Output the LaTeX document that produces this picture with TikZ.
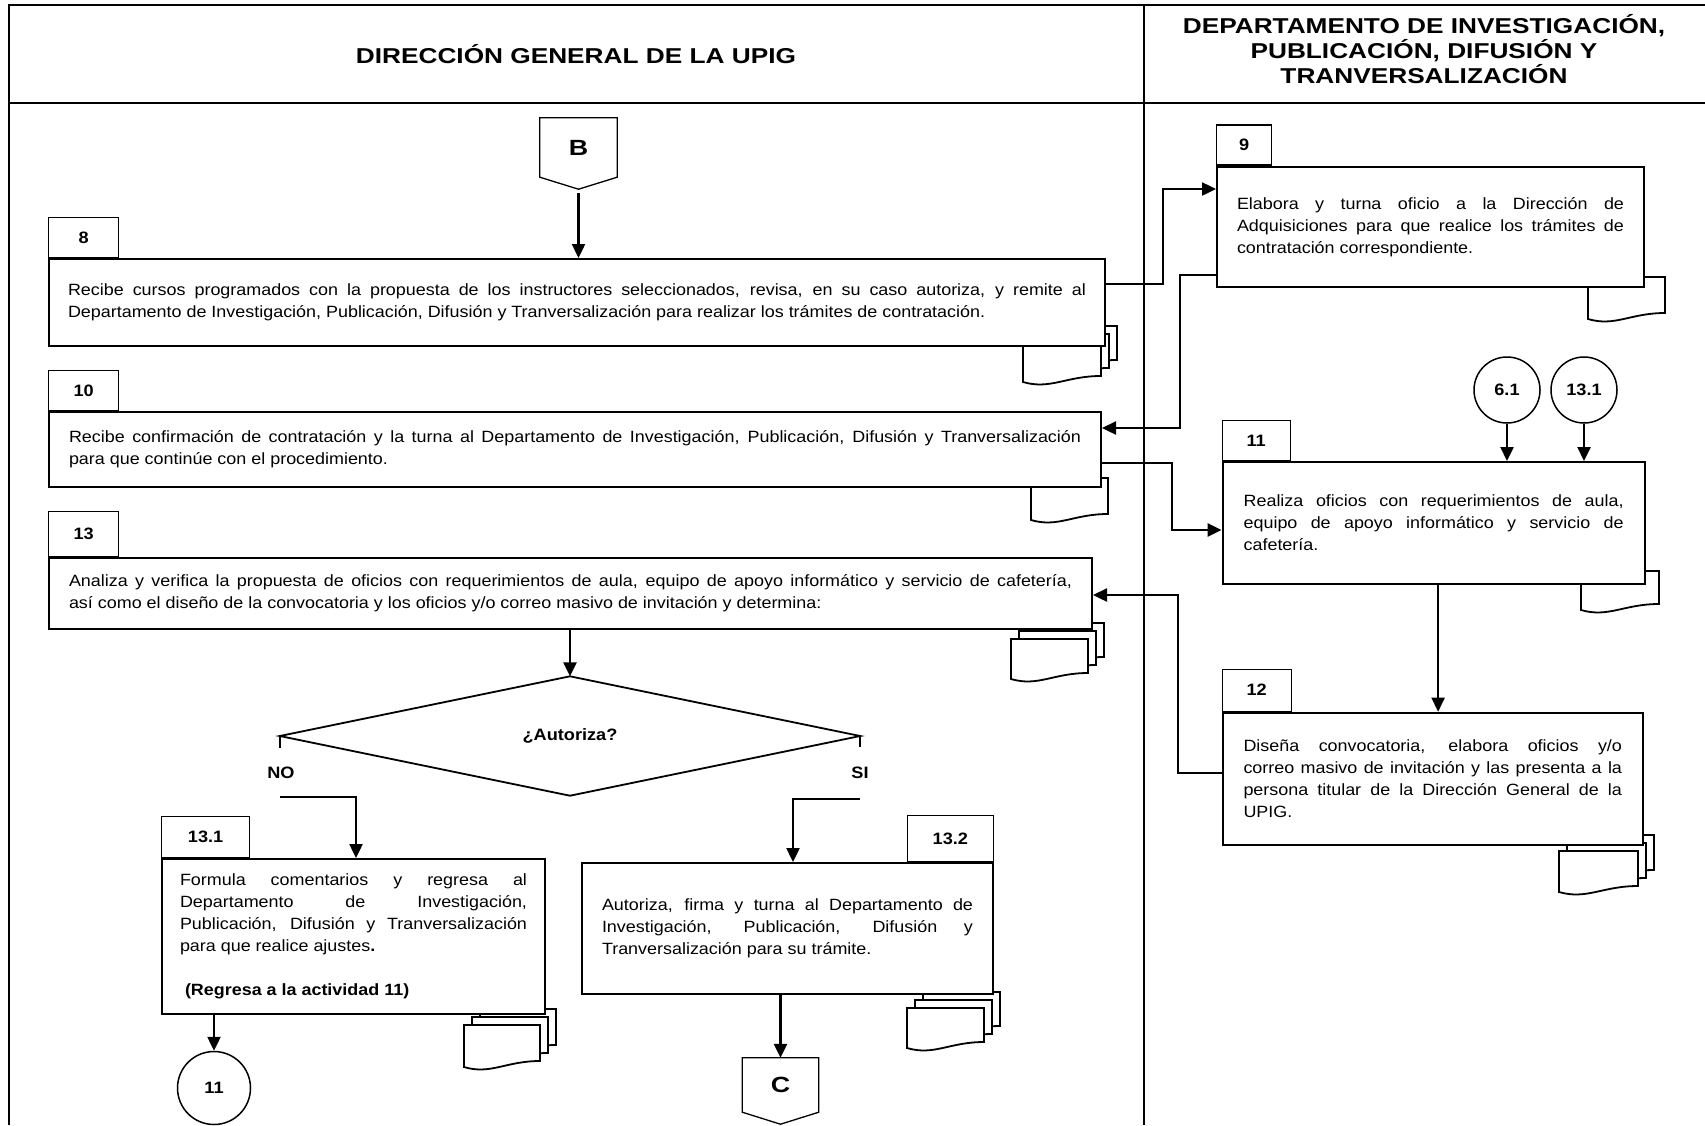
\documentclass[tikz,border=0pt]{standalone}
\usepackage{fontspec}
\setmainfont{Liberation Sans}
\newfontfamily\bodyfam[FakeStretch=1.1]{Liberation Sans}
\newfontfamily\headfam[FakeStretch=1.22]{Liberation Sans}
\usetikzlibrary{arrows.meta,calc}

\newcommand{\bodytext}{\bodyfam\fontsize{16.3}{22}\selectfont}
\newcommand{\labeltext}{\bodyfam\bfseries\fontsize{16.5}{20}\selectfont}
\newcommand{\headtext}{\headfam\bfseries\fontsize{21.5}{25}\selectfont}
\newcommand{\pagetext}{\headfam\bfseries\fontsize{22}{24}\selectfont}
% interword glue of the font itself (stretchable)
\newcommand{\fontspaces}{\spaceskip=0pt\relax\xspaceskip=0pt\relax}
% one justified line of a text block
\newcommand{\jline}[1]{{\fontspaces\makebox[\hsize][s]{#1}}\\}
% a document sheet: top-left x, top-left y, width, height (wavy bottom edge)
\newcommand{\docsheet}[4]{%
  \draw[docsh] (#1,#2) -- ++(#3,0) -- ++(0,#4-6)
    .. controls +(-0.45*#3,0) and +(0.35*#3,8) .. (#1,#2+#4) -- cycle;}
% three stacked sheets, the front one given
\newcommand{\docstack}[4]{%
  \docsheet{#1+16}{#2-16}{#3}{#4}%
  \docsheet{#1+8}{#2-8}{#3}{#4}%
  \docsheet{#1}{#2}{#3}{#4}}

\tikzset{
  frame/.style={line width=2.5pt},
  box/.style={draw, line width=2pt, fill=white, anchor=north west,
              inner ysep=0pt, align=left, font=\bodytext},
  tab/.style={draw, line width=1.2pt, anchor=south west, inner sep=0pt,
              font=\labeltext},
  circ/.style={draw, circle, line width=1.5pt, inner sep=0pt, fill=white,
               font=\labeltext},
  arr/.style={line width=2.4pt, -{Triangle[length=14pt,width=13pt]}},
  conn/.style={line width=2.4pt},
  thinline/.style={line width=1.3pt},
  docsh/.style={line width=1.8pt, fill=white},
  lbl/.style={font=\labeltext, inner sep=0pt}
}

\begin{document}
\begin{tikzpicture}[x=1pt, y=-1pt, line join=miter]
\fill[white] (0,0) rectangle (1705,1125);
\useasboundingbox (0,0) rectangle (1705,1125);

% ---- lanes and headers
\draw[frame] (9,5) -- (1705,5);
\draw[frame] (9,103) -- (1705,103);
\draw[frame] (9,4) -- (9,1125);
\draw[frame] (1144,4) -- (1144,1125);
\node[font=\headtext] (hL) at (576,54) {DIRECCIÓN GENERAL DE LA UPIG};
\node[font=\headtext, align=center] (hR) at (1424,49.5)
  {DEPARTAMENTO DE INVESTIGACIÓN,\\PUBLICACIÓN, DIFUSIÓN Y\\TRANVERSALIZACIÓN};

% ---- document sheets (behind the boxes)
\docstack{1023}{342}{78}{40}
\docsheet{1588}{277}{77}{42}
\docsheet{1031}{478}{77}{42}
\docsheet{1581}{571}{78}{39}
\docstack{1559}{851}{79}{41}
\docstack{1011}{639}{77}{40}
\docstack{464}{1025}{76}{42}
\docstack{907}{1008}{77}{40}

% ---- activity boxes
\node[box, minimum width=1056pt, minimum height=87pt, inner xsep=19pt, text width=1018pt] (b8) at (48,258)
  {\fontspaces\jline{Recibe cursos programados con la propuesta de los instructores seleccionados, revisa, en su caso autoriza, y remite al}
   \mbox{Departamento de Investigación, Publicación, Difusión y Tranversalización para realizar los trámites de contratación.}};
\node[box, minimum width=427pt, minimum height=120.5pt, inner xsep=20pt, text width=387pt] (b9) at (1216,165.5)
  {\fontspaces\jline{Elabora y turna oficio a la Dirección de}\jline{Adquisiciones para que realice los trámites de}contratación correspondiente.};
\node[box, minimum width=1052pt, minimum height=75pt, inner xsep=20pt, text width=1012pt] (b10) at (48,411)
  {\fontspaces\jline{Recibe confirmación de contratación y la turna al Departamento de Investigación, Publicación, Difusión y Tranversalización}
   \mbox{para que continúe con el procedimiento.}};
\node[box, minimum width=422pt, minimum height=122pt, inner xsep=21pt, text width=380pt] (b11) at (1221.6,461)
  {\fontspaces\jline{Realiza oficios con requerimientos de aula,}\jline{equipo de apoyo informático y servicio de}cafetería.};
\node[box, minimum width=420.5pt, minimum height=132.3pt, inner xsep=21pt, text width=378.5pt] (b12) at (1221.5,711.7)
  {\fontspaces\jline{Diseña convocatoria, elabora oficios y/o}\jline{correo masivo de invitación y las presenta a la}\jline{persona titular de la Dirección General de la}UPIG.};
\node[box, minimum width=1043pt, minimum height=71pt, inner xsep=20pt, text width=1003pt] (b13) at (48,557)
  {\fontspaces\jline{Analiza y verifica la propuesta de oficios con requerimientos de aula, equipo de apoyo informático y servicio de cafetería,}
   \mbox{así como el diseño de la convocatoria y los oficios y/o correo masivo de invitación y determina:}};
\node[box, minimum width=383pt, minimum height=155pt, inner xsep=18pt, text width=347pt] (b131) at (161,858)
  {\fontspaces\jline{Formula comentarios y regresa al}\jline{Departamento de Investigación,}\jline{Publicación, Difusión y Tranversalización}para que realice ajustes\textbf{.}\\
   \mbox{}\\ \hspace*{5pt}\textbf{(Regresa a la actividad 11)}};
\node[box, minimum width=411pt, minimum height=131pt, inner xsep=20pt, text width=371pt] (b132) at (581,862)
  {\fontspaces\jline{Autoriza, firma y turna al Departamento de}\jline{Investigación, Publicación, Difusión y}Tranversalización para su trámite.};

% ---- number tabs
\node[tab, minimum width=70pt, minimum height=40pt] (t8) at (b8.north west) {8};
\node[tab, minimum width=55pt, minimum height=40pt] (t9) at (b9.north west) {9};
\node[tab, minimum width=70pt, minimum height=40pt] (t10) at (b10.north west) {10};
\node[tab, minimum width=68pt, minimum height=40pt] (t11) at (b11.north west) {11};
\node[tab, minimum width=69pt, minimum height=42pt] (t12) at (b12.north west) {12};
\node[tab, minimum width=70pt, minimum height=45pt] (t13) at (b13.north west) {13};
\node[tab, minimum width=88pt, minimum height=41pt] (t131) at (b131.north west) {13.1};
\node[tab, anchor=south east, minimum width=86pt, minimum height=46pt] (t132) at (b132.north east) {13.2};

% ---- connectors on page
\node[circ, minimum size=66pt] (c61) at (1507,390) {6.1};
\node[circ, minimum size=66pt] (c131) at (1584,390) {13.1};
\node[circ, minimum size=73pt] (c11) at (214,1088) {11};

% ---- off-page connectors
\node[minimum width=77pt, minimum height=59pt, inner sep=0pt, font=\pagetext] (B) at (578.5,147.5) {B};
\coordinate (Btip) at ($(B.south)+(0,12)$);
\draw[thinline] (B.north west) -- (B.north east) -- (B.south east) -- (Btip) -- (B.south west) -- cycle;
\node[minimum width=76pt, minimum height=54pt, inner sep=0pt, font=\pagetext] (C) at (780.5,1085) {C};
\coordinate (Ctip) at ($(C.south)+(0,12)$);
\draw[thinline] (C.north west) -- (C.north east) -- (C.south east) -- (Ctip) -- (C.south west) -- cycle;

% ---- decision
\node[minimum width=580pt, minimum height=119pt, inner sep=0pt, font=\labeltext] (dec) at (570,736) {¿Autoriza?};
\draw[line width=1.8pt] (dec.north) -- (dec.east) -- (dec.south) -- (dec.west) -- cycle;
\node[lbl] (no) at (281,773) {NO};
\node[lbl] (si) at (860,773) {SI};

% ---- flow
\draw[arr] ($(Btip)+(0,4)$) -- (Btip |- b8.north);
\coordinate (j89) at (1163,189);
\draw[arr] (b8.east |- 0,284) -| (j89) -- (b9.west |- j89);
\coordinate (j910) at (1180,428);
\draw[arr] (b9.west |- 0,275) -| (j910) -- (b10.east |- j910);
\coordinate (j1011) at (1172,530);
\draw[arr] (b10.east |- 0,463) -| (j1011) -- (b11.west |- j1011);
\draw[arr] (c61.south) -- (c61.south |- b11.north);
\draw[arr] (c131.south) -- (c131.south |- b11.north);
\draw[arr] ([xshift=4.5pt]b11.south) -- ([xshift=4.5pt]b11.south |- b12.north);
\coordinate (j1213) at (1178,595);
\draw[arr] (b12.west |- 0,773) -| (j1213) -- (b13.east |- j1213);
\draw[arr] (b13.south -| dec.north) -- (dec.north);
\draw[conn] (dec.west) -- ++(0,12);
\draw[conn] (dec.east) -- ++(0,11);
\coordinate (noJ) at (356,797);
\draw[arr] (dec.west |- noJ) -- (noJ) -- (noJ |- b131.north);
\coordinate (siJ) at (793,799);
\draw[arr] (dec.east |- siJ) -- (siJ) -- (siJ |- b132.north);
\draw[arr] (b131.south -| c11.north) -- (c11.north);
\draw[arr] (b132.south -| C.north) -- (C.north);
\end{tikzpicture}
\end{document}
